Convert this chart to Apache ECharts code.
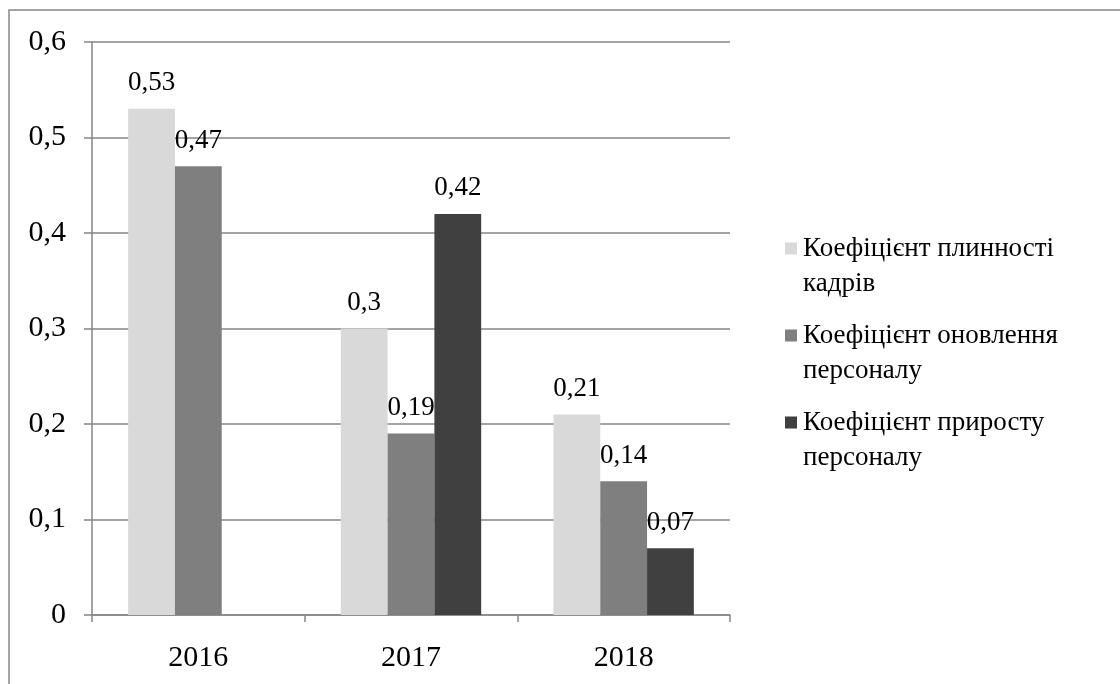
<!DOCTYPE html>
<html>
<head>
<meta charset="utf-8">
<script src="https://cdn.jsdelivr.net/npm/echarts@6/dist/echarts.min.js"></script>
<style>html,body{margin:0;padding:0;background:#fff}#c{width:1120px;height:684px}</style>
</head>
<body>
<div id="c"></div>
<script>
const categories = ['2016', '2017', '2018'];
const seriesNames = ['Коефіцієнт плинності кадрів', 'Коефіцієнт оновлення персоналу', 'Коефіцієнт приросту персоналу'];
const legendLines = {
  'Коефіцієнт плинності кадрів': 'Коефіцієнт плинності\nкадрів',
  'Коефіцієнт оновлення персоналу': 'Коефіцієнт оновлення\nперсоналу',
  'Коефіцієнт приросту персоналу': 'Коефіцієнт приросту\nперсоналу'
};
const turnover = [0.53, 0.3, 0.21];
const renewal = [0.47, 0.19, 0.14];
const growth = [null, 0.42, 0.07];
const colors = ['#d9d9d9', '#7f7f7f', '#404040'];

const FONT = '"Liberation Serif", "Times New Roman", serif';
const fmt = v => (v === null || v === undefined) ? '' : String(v).replace('.', ',');

const chart = echarts.init(document.getElementById('c'), null, {renderer: 'canvas'});
const mk = (name, data, color) => ({
  name, type: 'bar', data, barGap: '0%', barCategoryGap: '34%',
  itemStyle: {color},
  label: {show: true, position: 'top', distance: 12, color: '#000', fontFamily: FONT, fontSize: 27,
    formatter: p => fmt(p.value)},
  emphasis: {disabled: true}
});
chart.setOption({
  backgroundColor: '#fff',
  animation: false,
  color: colors,
  grid: {left: 92, right: 390, top: 42, bottom: 69, containLabel: false},
  legend: {
    orient: 'vertical', left: 780, top: 226, itemGap: 17,
    itemWidth: 12, itemHeight: 47, icon: 'path://M0,0h12v12h-12z M0,47h12',
    textStyle: {fontFamily: FONT, fontSize: 27, color: '#000', lineHeight: 35, padding: [0, 0, 0, 1]},
    formatter: n => legendLines[n] || n,
    data: seriesNames
  },
  xAxis: {
    type: 'category', data: categories,
    axisLine: {lineStyle: {color: '#868686', width: 1.5}},
    axisTick: {show: true, length: 7, lineStyle: {color: '#868686', width: 1.5}},
    axisLabel: {fontFamily: FONT, fontSize: 30, color: '#000', margin: 28}
  },
  yAxis: {
    type: 'value', min: 0, max: 0.6, interval: 0.1,
    axisLine: {show: true, lineStyle: {color: '#868686', width: 1.5}},
    axisTick: {show: true, length: 8, lineStyle: {color: '#868686', width: 1.5}},
    splitLine: {lineStyle: {color: '#868686', width: 1.5}},
    axisLabel: {fontFamily: FONT, fontSize: 30, color: '#000', margin: 26, formatter: v => fmt(Math.round(v * 10) / 10)}
  },
  graphic: [{type: 'rect', shape: {x: 9, y: 10, width: 1200, height: 800}, style: {fill: 'none', stroke: '#868686', lineWidth: 1.5}, silent: true, z: -1}],
  series: [mk(seriesNames[0], turnover, colors[0]), mk(seriesNames[1], renewal, colors[1]), mk(seriesNames[2], growth, colors[2])]
});
</script>
</body>
</html>
